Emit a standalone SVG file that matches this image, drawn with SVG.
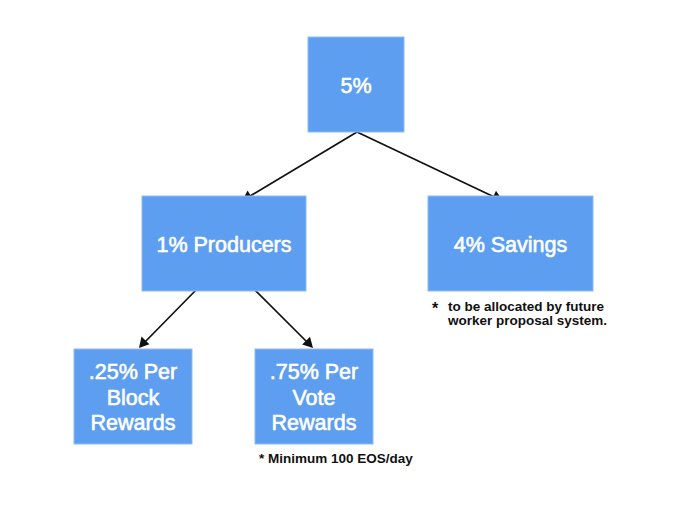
<svg xmlns="http://www.w3.org/2000/svg" width="700" height="506" viewBox="0 0 700 506">
<defs>
<style>
.box{fill:#5d9ef0;stroke:#8cbcf5;stroke-width:1}
.lbl{font-family:"Liberation Sans",Arial,sans-serif;font-size:21.5px;fill:#fff;stroke:#fff;stroke-width:0.6;text-anchor:middle}
.note{font-family:"Liberation Sans",Arial,sans-serif;font-size:13.5px;font-weight:bold;fill:#111}
.conn{stroke:#111;stroke-width:1.7;fill:none}
.head{fill:#111}
</style>
</defs>
<rect width="700" height="506" fill="#fff"/>
<g id="connectors">
<line class="conn" x1="357" y1="132" x2="246" y2="198.5"/>
<path class="head" d="M242,201 L247.6,190.6 L253.3,200.1 z"/>
<line class="conn" x1="357" y1="132" x2="498.5" y2="199"/>
<path class="head" d="M503,201 L491.3,200.7 L496,190.7 z"/>
<line class="conn" x1="197" y1="289" x2="142" y2="345"/>
<path class="head" d="M139,348 L141.5,336.5 L149.4,344.3 z"/>
<line class="conn" x1="254" y1="289" x2="310" y2="345"/>
<path class="head" d="M313,348 L302.2,344.6 L310,336.8 z"/>
</g>
<g id="node-5">
<rect class="box" x="308" y="37" width="96" height="95"/>
<text class="lbl" x="356" y="93">5%</text>
</g>
<g id="node-producers">
<rect class="box" x="142" y="196" width="164" height="95"/>
<text class="lbl" x="224" y="252">1% Producers</text>
</g>
<g id="node-savings">
<rect class="box" x="428" y="196" width="165" height="95"/>
<text class="lbl" x="510.5" y="252">4% Savings</text>
</g>
<g id="node-block">
<rect class="box" x="74" y="349" width="118" height="95"/>
<text class="lbl" x="133" y="379">.25% Per</text>
<text class="lbl" x="133" y="404.5">Block</text>
<text class="lbl" x="133" y="430">Rewards</text>
</g>
<g id="node-vote">
<rect class="box" x="255" y="349" width="118" height="95"/>
<text class="lbl" x="314" y="379">.75% Per</text>
<text class="lbl" x="314" y="404.5">Vote</text>
<text class="lbl" x="314" y="430">Rewards</text>
</g>
<g id="notes">
<text class="note" x="432" y="314" style="font-size:16px">*</text>
<text class="note" x="448" y="311">to be allocated by future</text>
<text class="note" x="448" y="325">worker proposal system.</text>
<text class="note" x="259" y="463">* Minimum 100 EOS/day</text>
</g>
</svg>
